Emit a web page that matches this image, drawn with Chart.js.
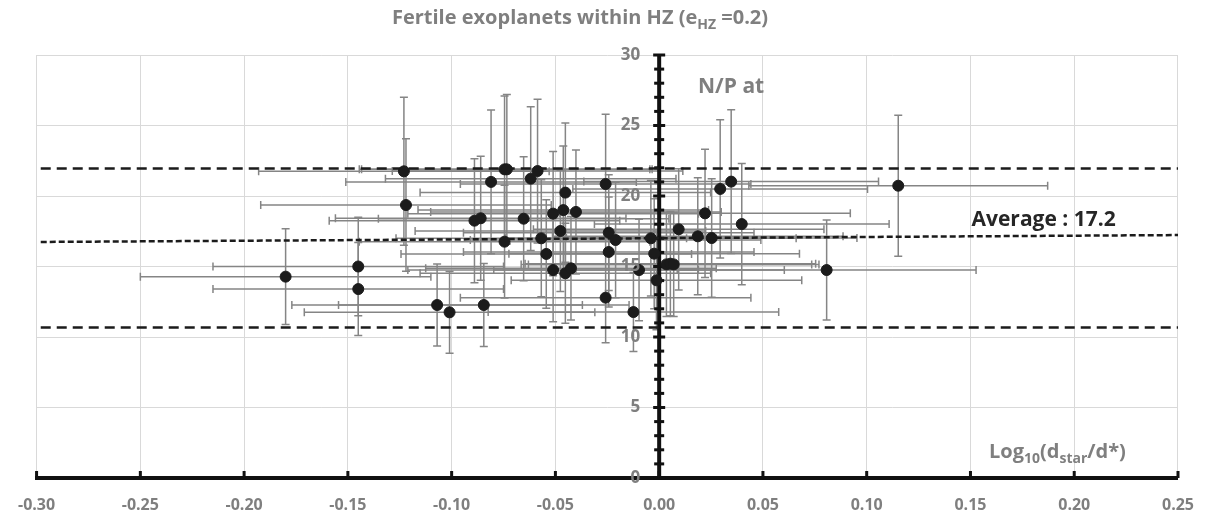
<!DOCTYPE html>
<html>
<head>
<meta charset="utf-8">
<script src="https://cdn.jsdelivr.net/npm/chart.js@4.4.1/dist/chart.umd.min.js"></script>
<style>
  html, body { margin: 0; padding: 0; background: #fff; }
</style>
</head>
<body>
<canvas id="chart1" width="1212" height="521"></canvas>
<script>
// Log10(dstar/d*) of each planet
const logDist = [-0.180, -0.145, -0.145, -0.123, -0.122, -0.107, -0.101, -0.089, -0.086, -0.0845,
  -0.081, -0.0745, -0.0734, -0.0745, -0.0653, -0.0619, -0.0586, -0.0568, -0.0544, -0.0511,
  -0.0511, -0.0476, -0.0462, -0.0452, -0.0452, -0.0425, -0.0401, -0.0258, -0.0243, -0.021,
  -0.0243, -0.0258, -0.0124, -0.0097, -0.004, -0.0024, -0.0013, 0.0035, 0.0054, 0.007,
  0.0094, 0.0186, 0.0221, 0.0253, 0.0294, 0.0347, 0.0398, 0.0807, 0.1152];
// N/P ratio
const npRatio = [14.28, 15.0, 13.4, 21.75, 19.36, 12.27, 11.75, 18.25, 18.42, 12.27,
  21.0, 21.89, 21.89, 16.76, 18.39, 21.23, 21.77, 17.0, 15.89, 18.75,
  14.75, 17.52, 19.0, 20.24, 14.52, 14.87, 18.87, 20.85, 17.4, 16.88,
  16.03, 12.79, 11.77, 14.75, 17.0, 15.91, 14.02, 15.15, 15.2, 15.15,
  17.64, 17.14, 18.77, 17.02, 20.5, 21.02, 18.01, 14.75, 20.73];
const logErr = [0.07, 0.07, 0.07, 0.07, 0.07, 0.07, 0.07, 0.07, 0.07, 0.07,
  0.07, 0.07, 0.07, 0.07, 0.07, 0.07, 0.07, 0.07, 0.07, 0.07,
  0.07, 0.07, 0.07, 0.07, 0.07, 0.07, 0.07, 0.07, 0.07, 0.07,
  0.07, 0.07, 0.07, 0.07, 0.07, 0.07, 0.07, 0.07, 0.07, 0.07,
  0.07, 0.07, 0.07, 0.07, 0.071, 0.071, 0.071, 0.072, 0.072];
const npErr = [3.4, 3.5, 3.3, 5.25, 4.7, 2.9, 2.9, 4.4, 4.4, 2.95,
  5.1, 5.2, 5.3, 4.0, 4.4, 5.1, 5.1, 4.15, 3.85, 4.4,
  3.66, 4.3, 4.55, 4.94, 3.55, 3.67, 4.4, 4.94, 4.1, 4.1,
  3.9, 3.2, 2.8, 3.6, 4.1, 3.9, 3.5, 3.7, 3.7, 3.7,
  4.3, 4.15, 4.55, 4.2, 4.9, 5.1, 4.3, 3.55, 5.0];

// dashed reference lines
const lineX = [-0.298, 0.25];
const upperLimit = [21.95, 21.95];
const averageLine = [16.74, 17.23];
const lowerLimit = [10.68, 10.68];

const avgLabel = 'Average : 17.2';
const avgLabelPos = [0.1505, 18.3];

const gray = '#7f7f7f';
const fontFam = '"Open Sans", sans-serif';

let points = [];
for (let i = 0; i < logDist.length; i++) {
  points.push({x: logDist[i], y: npRatio[i]});
}
function linePts(ys) {
  return [{x: lineX[0], y: ys[0]}, {x: lineX[1], y: ys[1]}];
}

// draws text made of normal and subscript parts
function drawRich(ctx, parts, x, y, size, color, align) {
  const subSize = Math.round(size * 0.68);
  let total = 0;
  parts.forEach(p => {
    ctx.font = 'bold ' + (p.sub ? subSize : size) + 'px ' + fontFam;
    total += ctx.measureText(p.t).width;
  });
  let cx = align === 'center' ? x - total / 2 : x;
  ctx.fillStyle = color;
  ctx.textAlign = 'left';
  ctx.textBaseline = 'alphabetic';
  parts.forEach(p => {
    ctx.font = 'bold ' + (p.sub ? subSize : size) + 'px ' + fontFam;
    ctx.fillText(p.t, cx, p.sub ? y + size * 0.25 : y);
    cx += ctx.measureText(p.t).width;
  });
}

const errorBars = {
  id: 'errorBars',
  beforeDatasetsDraw(chart) {
    const {ctx, scales: {x, y}} = chart;
    ctx.save();
    ctx.strokeStyle = '#858585';
    ctx.lineWidth = 1.5;
    for (let i = 0; i < logDist.length; i++) {
      const px = x.getPixelForValue(logDist[i]);
      const py = y.getPixelForValue(npRatio[i]);
      const x0 = x.getPixelForValue(logDist[i] - logErr[i]);
      const x1 = x.getPixelForValue(logDist[i] + logErr[i]);
      const y0 = y.getPixelForValue(npRatio[i] - npErr[i]);
      const y1 = y.getPixelForValue(npRatio[i] + npErr[i]);
      ctx.beginPath();
      ctx.moveTo(x0, py); ctx.lineTo(x1, py);
      ctx.moveTo(x0, py - 4); ctx.lineTo(x0, py + 4);
      ctx.moveTo(x1, py - 4); ctx.lineTo(x1, py + 4);
      ctx.moveTo(px, y0); ctx.lineTo(px, y1);
      ctx.moveTo(px - 4, y0); ctx.lineTo(px + 4, y0);
      ctx.moveTo(px - 4, y1); ctx.lineTo(px + 4, y1);
      ctx.stroke();
    }

    // y axis drawn through x = 0, with marks every unit
    const ax = x.getPixelForValue(0);
    ctx.fillStyle = '#111';
    ctx.fillRect(ax - 2, y.getPixelForValue(30) - 1, 4, y.getPixelForValue(0) - y.getPixelForValue(30) + 2);
    for (let v = 0; v <= 30; v++) {
      const w = v % 5 === 0 ? 12 : 10;
      ctx.fillRect(ax - w / 2, y.getPixelForValue(v) - 1.5, w, 3);
    }
    // x axis tick marks pointing up
    x.ticks.forEach(t => {
      const tx = x.getPixelForValue(t.value);
      ctx.fillRect(tx - 1.5, y.getPixelForValue(0) - 7, 3, 7);
    });
    ctx.restore();
  },
  afterDraw(chart) {
    const {ctx, scales: {x, y}} = chart;
    ctx.save();
    // y tick labels sit left of the axis at x = 0
    const ax = x.getPixelForValue(0);
    ctx.font = 'bold 17px ' + fontFam;
    ctx.fillStyle = gray;
    ctx.textAlign = 'right';
    ctx.textBaseline = 'middle';
    y.ticks.forEach(t => {
      ctx.fillText(String(t.value), ax - 19, y.getPixelForValue(t.value));
    });

    drawRich(ctx, [{t: 'Fertile exoplanets within HZ (e'}, {t: 'HZ', sub: true}, {t: ' =0.2)'}],
      580, 24, 20, gray, 'center');
    drawRich(ctx, [{t: 'N/P at'}], 698, 93, 21, gray, 'left');
    drawRich(ctx, [{t: 'Log'}, {t: '10', sub: true}, {t: '(d'}, {t: 'star', sub: true}, {t: '/d*)'}],
      989, 458, 20, gray, 'left');
    ctx.font = 'bold 21px ' + fontFam;
    ctx.fillStyle = '#262626';
    ctx.textAlign = 'left';
    ctx.textBaseline = 'middle';
    ctx.fillText(avgLabel, x.getPixelForValue(avgLabelPos[0]), y.getPixelForValue(avgLabelPos[1]));
    ctx.restore();
  }
};

const ctx = document.getElementById('chart1').getContext('2d');

const chart1 = new Chart(ctx, {
  type: 'scatter',
  data: {
    datasets: [{
      label: 'Planets',
      data: points,
      backgroundColor: '#1b1b1b',
      borderColor: '#1b1b1b',
      pointRadius: 5.5,
      pointHoverRadius: 5.5
    },
    {
      type: 'line',
      label: 'Upper',
      data: linePts(upperLimit),
      borderColor: '#1b1b1b',
      borderWidth: 2.5,
      borderDash: [10, 6],
      pointRadius: 0,
      fill: false
    },
    {
      type: 'line',
      label: 'Average',
      data: linePts(averageLine),
      borderColor: '#1b1b1b',
      borderWidth: 2.5,
      borderDash: [6, 3],
      pointRadius: 0,
      fill: false
    },
    {
      type: 'line',
      label: 'Lower',
      data: linePts(lowerLimit),
      borderColor: '#1b1b1b',
      borderWidth: 2.5,
      borderDash: [10, 6],
      pointRadius: 0,
      fill: false
    }]
  },
  options: {
    responsive: false,
    animation: false,
    devicePixelRatio: 1,
    layout: {
      padding: {left: 33, right: 27, top: 55, bottom: 0}
    },
    plugins: {
      legend: {display: false},
      tooltip: {enabled: false},
      title: {display: false}
    },
    scales: {
      x: {
        type: 'linear',
        position: 'bottom',
        min: -0.3,
        max: 0.25,
        afterFit: function(scale) {
          scale.height = 43;
        },
        grid: {color: '#d9d9d9', drawTicks: false},
        border: {display: true, color: '#111', width: 4},
        ticks: {
          stepSize: 0.05,
          autoSkip: false,
          maxRotation: 0,
          padding: 18,
          color: gray,
          font: {family: fontFam, weight: 'bold', size: 16},
          callback: v => Math.abs(v) < 1e-9 ? '0.00' : v.toFixed(2)
        }
      },
      y: {
        type: 'linear',
        position: {x: 0},
        min: 0,
        max: 30,
        grid: {color: '#d9d9d9', drawTicks: false},
        border: {display: false},
        ticks: {
          display: false,
          stepSize: 5
        }
      }
    }
  },
  plugins: [errorBars]
});
</script>
</body>
</html>
